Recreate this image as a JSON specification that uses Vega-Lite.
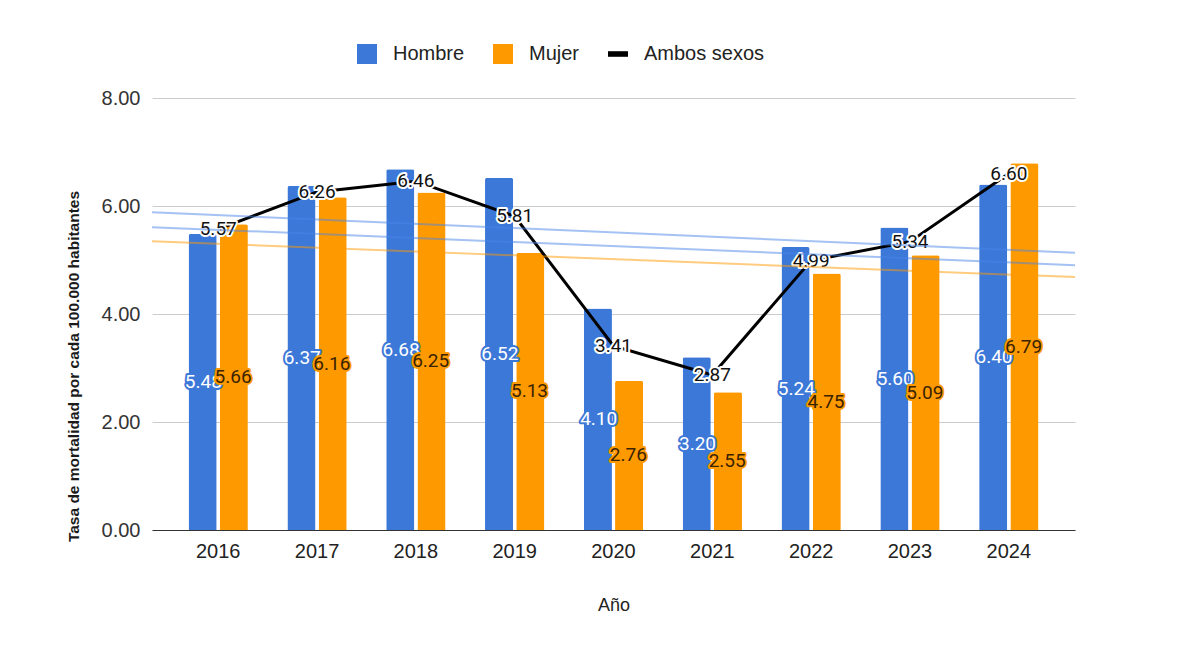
{
  "$schema": "https://vega.github.io/schema/vega-lite/v6.json",
  "width": 923,
  "height": 432,
  "autosize": {"type": "none"},
  "padding": {"left": 152, "top": 98, "right": 126, "bottom": 124},
  "background": "white",
  "config": {"view": {"stroke": null}, "font": "Liberation Sans"},
  "data": {
    "values": [
      {"anio": 2016, "sexo": "Hombre", "tasa": 5.48},
      {"anio": 2017, "sexo": "Hombre", "tasa": 6.37},
      {"anio": 2018, "sexo": "Hombre", "tasa": 6.68},
      {"anio": 2019, "sexo": "Hombre", "tasa": 6.52},
      {"anio": 2020, "sexo": "Hombre", "tasa": 4.10},
      {"anio": 2021, "sexo": "Hombre", "tasa": 3.20},
      {"anio": 2022, "sexo": "Hombre", "tasa": 5.24},
      {"anio": 2023, "sexo": "Hombre", "tasa": 5.60},
      {"anio": 2024, "sexo": "Hombre", "tasa": 6.40},
      {"anio": 2016, "sexo": "Mujer", "tasa": 5.66},
      {"anio": 2017, "sexo": "Mujer", "tasa": 6.16},
      {"anio": 2018, "sexo": "Mujer", "tasa": 6.25},
      {"anio": 2019, "sexo": "Mujer", "tasa": 5.13},
      {"anio": 2020, "sexo": "Mujer", "tasa": 2.76},
      {"anio": 2021, "sexo": "Mujer", "tasa": 2.55},
      {"anio": 2022, "sexo": "Mujer", "tasa": 4.75},
      {"anio": 2023, "sexo": "Mujer", "tasa": 5.09},
      {"anio": 2024, "sexo": "Mujer", "tasa": 6.79},
      {"anio": 2016, "sexo": "Ambos sexos", "tasa": 5.57},
      {"anio": 2017, "sexo": "Ambos sexos", "tasa": 6.26},
      {"anio": 2018, "sexo": "Ambos sexos", "tasa": 6.46},
      {"anio": 2019, "sexo": "Ambos sexos", "tasa": 5.81},
      {"anio": 2020, "sexo": "Ambos sexos", "tasa": 3.41},
      {"anio": 2021, "sexo": "Ambos sexos", "tasa": 2.87},
      {"anio": 2022, "sexo": "Ambos sexos", "tasa": 4.99},
      {"anio": 2023, "sexo": "Ambos sexos", "tasa": 5.34},
      {"anio": 2024, "sexo": "Ambos sexos", "tasa": 6.60}
    ]
  },
  "layer": [
    {
      "layer": [
        {
          "transform": [{"filter": "datum.sexo !== 'Ambos sexos'"}],
          "mark": {"type": "bar", "cornerRadiusTopLeft": 2, "cornerRadiusTopRight": 2},
          "encoding": {
            "x": {
              "field": "anio", "type": "ordinal", "title": "Año",
              "scale": {"type": "band", "domain": [2016, 2017, 2018, 2019, 2020, 2021, 2022, 2023, 2024], "paddingInner": 0.4, "paddingOuter": 0.37},
              "axis": {"labelAngle": 0, "labelFontSize": 20, "labelColor": "#222", "labelPadding": 11, "ticks": false, "domain": true, "domainColor": "#333", "domainWidth": 1, "grid": false, "titleFontSize": 18, "titleFontWeight": "normal", "titleColor": "#222", "titlePadding": 35}
            },
            "xOffset": {"field": "sexo", "type": "nominal", "scale": {"domain": ["Hombre", "Mujer"], "paddingInner": 0.1}},
            "y": {
              "field": "tasa", "type": "quantitative", "title": "Tasa de mortalidad por cada 100.000 habitantes",
              "scale": {"domain": [0, 8], "nice": false},
              "axis": {"values": [0, 2, 4, 6, 8], "format": ".2f", "labelFontSize": 20, "labelColor": "#333", "labelPadding": 12, "ticks": false, "domain": false, "grid": true, "gridColor": "#cccccc", "titleFontSize": 15.5, "titleFontWeight": "bold", "titleColor": "#1a1a1a", "titlePadding": 20, "titleY": 268}
            },
            "color": {
              "field": "sexo", "type": "nominal",
              "scale": {"domain": ["Hombre", "Mujer", "Ambos sexos"], "range": ["#3c78d8", "#ff9900", "#000000"]},
              "legend": {
                "title": null, "orient": "none", "legendX": 205, "legendY": -54, "direction": "horizontal",
                "symbolSize": 400, "symbolType": "square", "labelFontSize": 20, "labelColor": "#222", "labelOffset": 16, "columnPadding": 28,
                "encode": {
                  "symbols": {
                    "update": {
                      "shape": {"signal": "datum.value === 'Ambos sexos' ? 'M-1,-0.28H1V0.28H-1Z' : 'square'"},
                      "fill": {"signal": "datum.value === 'Ambos sexos' ? '#000000' : (datum.value === 'Hombre' ? '#3c78d8' : '#ff9900')"},
                      "stroke": {"value": "transparent"},
                      "strokeWidth": {"value": 0},
                      "opacity": {"value": 1}
                    }
                  }
                }
              }
            }
          }
        },
        {
          "transform": [{"filter": "datum.sexo === 'Ambos sexos'"}],
          "mark": {"type": "line", "strokeWidth": 3},
          "encoding": {
            "x": {"field": "anio", "type": "ordinal"},
            "y": {"field": "tasa", "type": "quantitative"},
            "color": {"field": "sexo", "type": "nominal"}
          }
        },
        {
          "transform": [{"filter": "datum.sexo === 'Ambos sexos'"}],
          "mark": {"type": "text", "font": "Roboto", "fontSize": 19, "stroke": "white", "strokeWidth": 4, "strokeJoin": "round", "fill": "white", "baseline": "middle"},
          "encoding": {
            "x": {"field": "anio", "type": "ordinal"},
            "y": {"field": "tasa", "type": "quantitative"},
            "text": {"field": "tasa", "type": "quantitative", "format": ".2f"}
          }
        },
        {
          "transform": [{"filter": "datum.sexo === 'Ambos sexos'"}],
          "mark": {"type": "text", "font": "Roboto", "fontSize": 19, "fill": "#111111", "baseline": "middle"},
          "encoding": {
            "x": {"field": "anio", "type": "ordinal"},
            "y": {"field": "tasa", "type": "quantitative"},
            "text": {"field": "tasa", "type": "quantitative", "format": ".2f"}
          }
        }
      ]
    },
    {
      "transform": [{"regression": "tasa", "on": "anio", "groupby": ["sexo"], "extent": [2015.33, 2024.67]}],
      "mark": {"type": "line", "strokeWidth": 2, "strokeOpacity": 0.5},
      "encoding": {
        "x": {"field": "anio", "type": "quantitative", "scale": {"domain": [2015.33, 2024.67], "nice": false, "zero": false}, "axis": null},
        "y": {"field": "tasa", "type": "quantitative", "scale": {"domain": [0, 8], "nice": false}, "axis": null},
        "stroke": {"field": "sexo", "type": "nominal", "scale": {"domain": ["Hombre", "Mujer", "Ambos sexos"], "range": ["#4a86e8", "#ff9900", "#4a86e8"]}, "legend": null}
      }
    },
    {
      "layer": [
        {
          "transform": [{"filter": "datum.sexo === 'Hombre'"}],
          "mark": {"type": "text", "font": "Roboto", "fontSize": 19, "stroke": "#3c78d8", "strokeWidth": 4, "strokeJoin": "round", "fill": "#3c78d8", "baseline": "middle"},
          "encoding": {
            "x": {"field": "anio", "type": "ordinal", "scale": {"type": "band", "domain": [2016, 2017, 2018, 2019, 2020, 2021, 2022, 2023, 2024], "paddingInner": 0.4, "paddingOuter": 0.37}, "axis": null},
            "xOffset": {"field": "sexo", "type": "nominal", "scale": {"domain": ["Hombre", "Mujer"], "paddingInner": 0.1}},
            "y": {"field": "tasa", "type": "quantitative", "scale": {"domain": [0, 16], "nice": false}, "axis": null},
            "text": {"field": "tasa", "type": "quantitative", "format": ".2f"}
          }
        },
        {
          "transform": [{"filter": "datum.sexo === 'Hombre'"}],
          "mark": {"type": "text", "font": "Roboto", "fontSize": 19, "fill": "white", "baseline": "middle"},
          "encoding": {
            "x": {"field": "anio", "type": "ordinal"},
            "xOffset": {"field": "sexo", "type": "nominal"},
            "y": {"field": "tasa", "type": "quantitative"},
            "text": {"field": "tasa", "type": "quantitative", "format": ".2f"}
          }
        },
        {
          "transform": [{"filter": "datum.sexo === 'Mujer'"}],
          "mark": {"type": "text", "font": "Roboto", "fontSize": 19, "stroke": "#ff9900", "strokeWidth": 4, "strokeJoin": "round", "fill": "#ff9900", "baseline": "middle"},
          "encoding": {
            "x": {"field": "anio", "type": "ordinal"},
            "xOffset": {"field": "sexo", "type": "nominal"},
            "y": {"field": "tasa", "type": "quantitative"},
            "text": {"field": "tasa", "type": "quantitative", "format": ".2f"}
          }
        },
        {
          "transform": [{"filter": "datum.sexo === 'Mujer'"}],
          "mark": {"type": "text", "font": "Roboto", "fontSize": 19, "fill": "#3a2300", "baseline": "middle"},
          "encoding": {
            "x": {"field": "anio", "type": "ordinal"},
            "xOffset": {"field": "sexo", "type": "nominal"},
            "y": {"field": "tasa", "type": "quantitative"},
            "text": {"field": "tasa", "type": "quantitative", "format": ".2f"}
          }
        }
      ]
    }
  ],
  "resolve": {"scale": {"x": "independent", "y": "independent", "xOffset": "independent"}}
}
